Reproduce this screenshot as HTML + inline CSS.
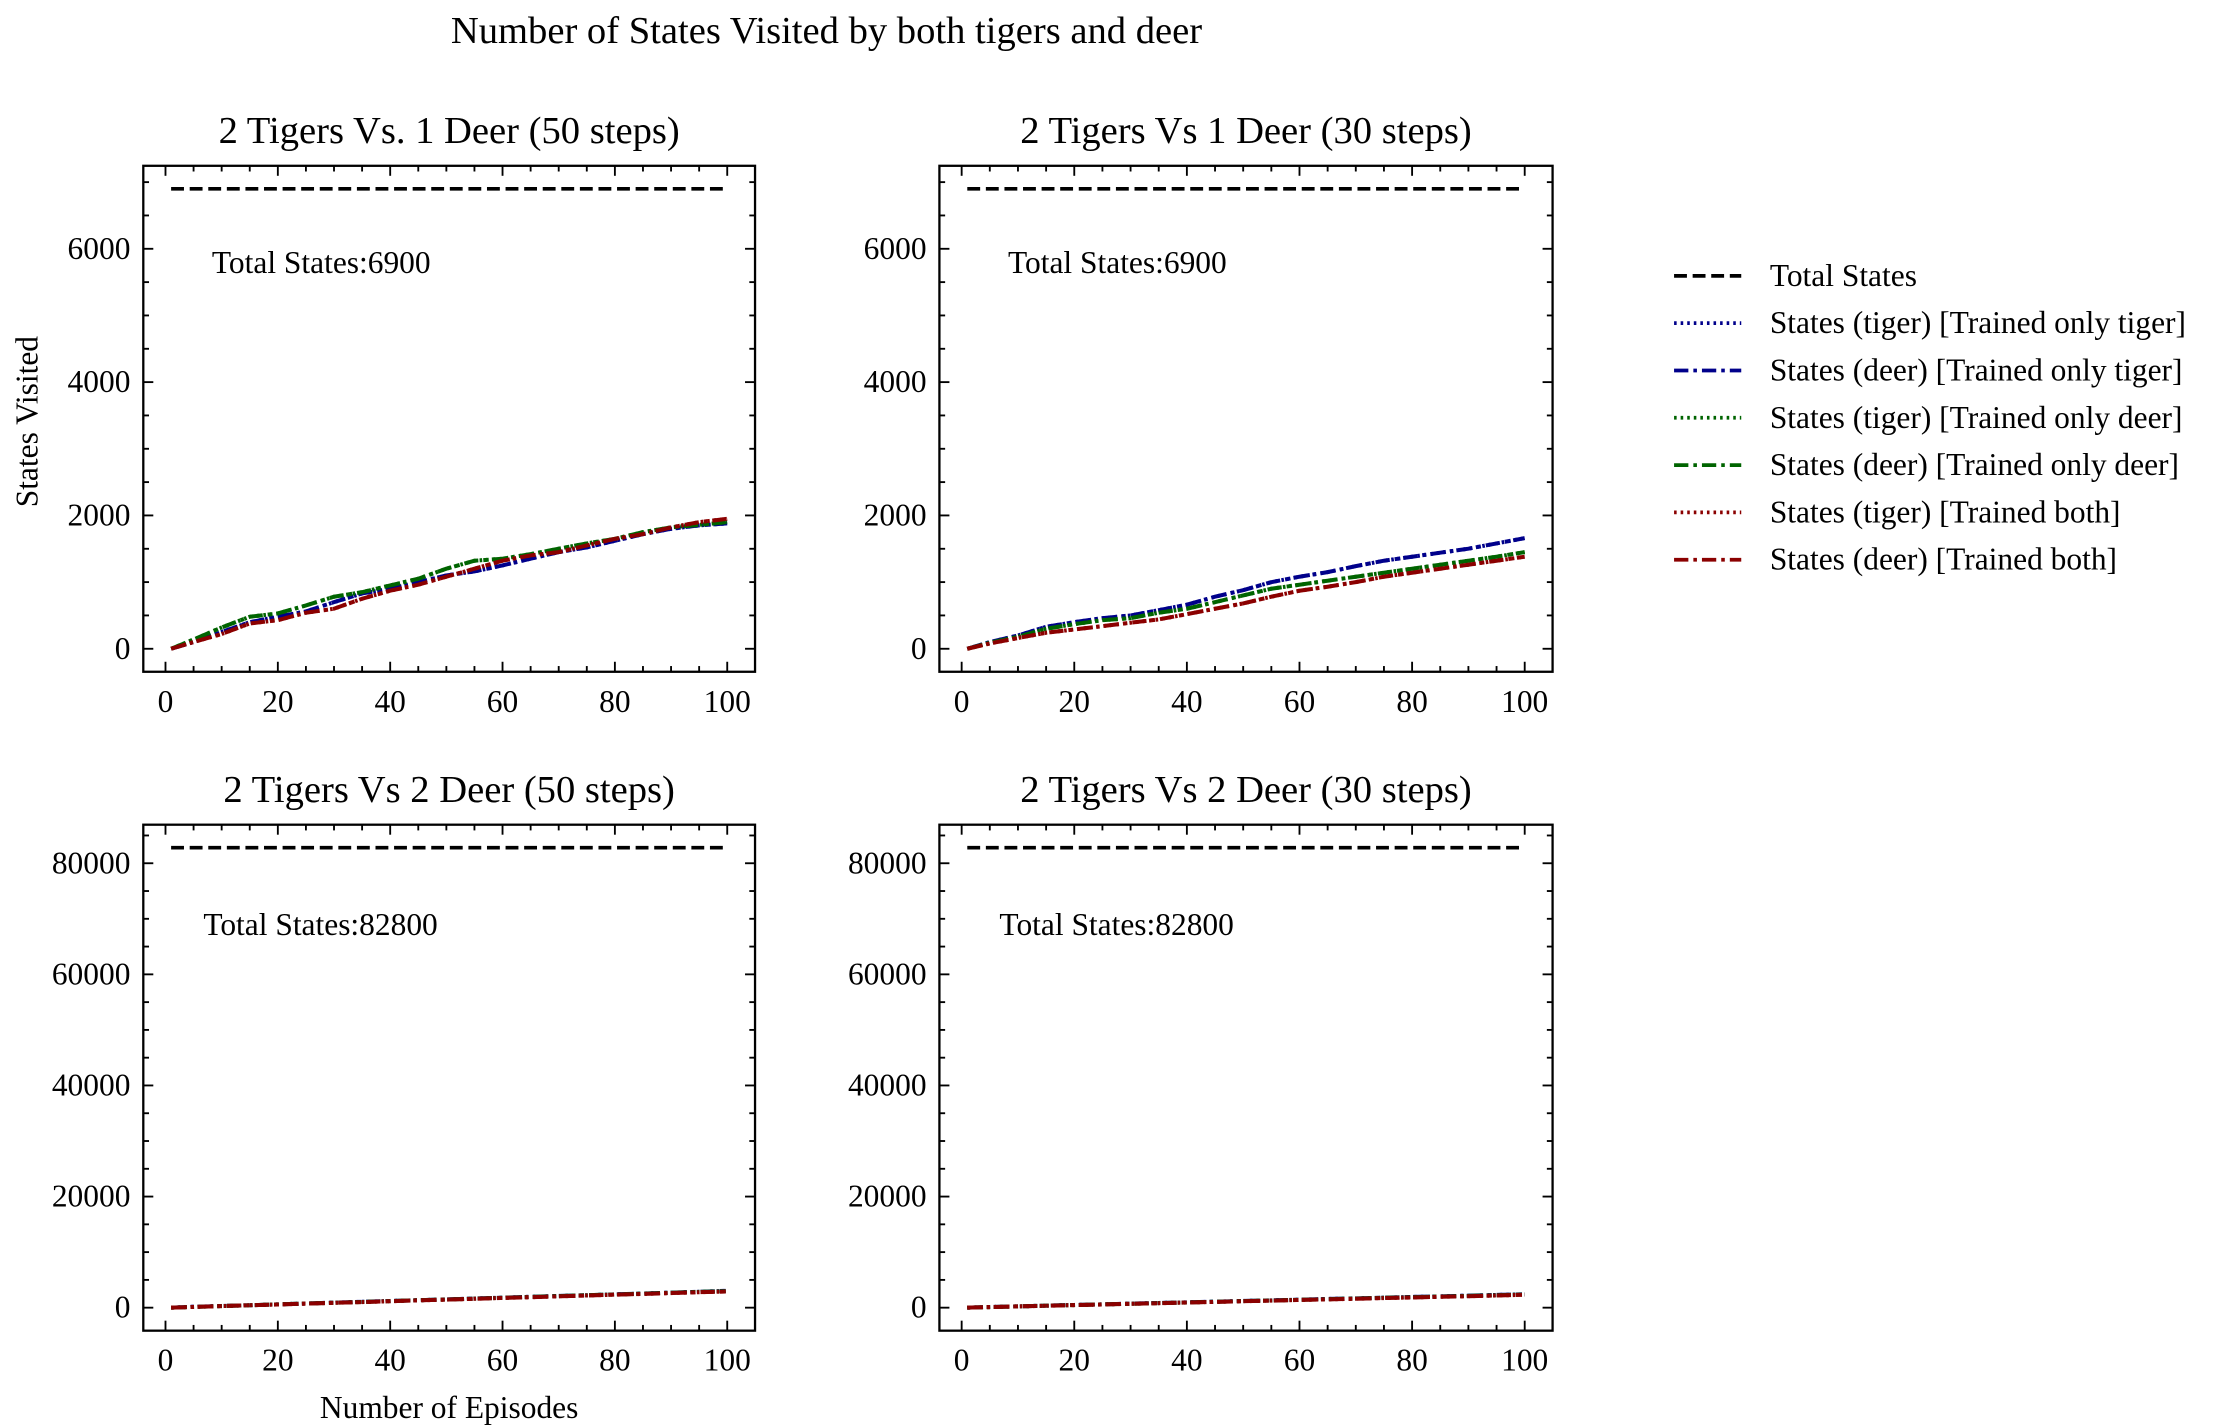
<!DOCTYPE html>
<html><head><meta charset="utf-8"><style>
html,body{margin:0;padding:0;background:#fff}
svg{display:block;font-family:"Liberation Serif",serif}
</style></head><body>
<svg id="fig" width="2219" height="1425" viewBox="0 0 1552 997" xmlns="http://www.w3.org/2000/svg">
<rect width="1552" height="997" fill="#fff"/>
<text x="578" y="30" font-size="27" text-anchor="middle">Number of States Visited by both tigers and deer</text>
<text transform="translate(26,295) rotate(-90)" font-size="22" text-anchor="middle">States Visited</text>
<text x="314" y="992" font-size="22" text-anchor="middle">Number of Episodes</text>
<g id="legend"></g>
</svg>
<script>
const episodes = [1,5,10,15,20,25,30,35,40,45,50,55,60,65,70,75,80,85,90,95,100];
const seriesNames = ["States (tiger) [Trained only tiger]","States (deer) [Trained only tiger]","States (tiger) [Trained only deer]","States (deer) [Trained only deer]","States (tiger) [Trained both]","States (deer) [Trained both]"];
const totalStates = [6900, 6900, 82800, 82800];
const panelTitles = ["2 Tigers Vs. 1 Deer (50 steps)","2 Tigers Vs 1 Deer (30 steps)","2 Tigers Vs 2 Deer (50 steps)","2 Tigers Vs 2 Deer (30 steps)"];
const tlBlue = [0,100,250,400,480,560,700,830,900,1000,1100,1160,1250,1350,1450,1520,1620,1720,1800,1850,1880];
const tlGreen = [0,140,320,480,530,650,780,850,950,1050,1200,1320,1350,1420,1500,1580,1650,1750,1820,1860,1900];
const tlRed = [0,100,220,380,430,540,600,750,870,960,1080,1200,1320,1400,1450,1550,1650,1720,1820,1900,1950];
const trBlue = [0,100,200,330,400,460,500,580,660,780,880,1000,1080,1150,1240,1320,1380,1440,1500,1580,1660];
const trGreen = [0,90,180,300,370,430,460,540,600,700,800,900,960,1020,1080,1140,1200,1260,1320,1380,1450];
const trRed = [0,80,160,240,290,340,390,440,520,600,680,780,870,930,1000,1080,1140,1200,1260,1320,1380];
const blBlue = [0,150,300,450,600,750,900,1050,1200,1350,1500,1650,1800,1950,2100,2250,2400,2550,2700,2850,3050];
const blGreen = [0,140,290,440,590,740,880,1030,1180,1330,1480,1630,1780,1930,2080,2230,2380,2530,2680,2830,2980];
const blRed = [0,130,280,430,580,720,870,1010,1160,1310,1450,1600,1750,1890,2040,2190,2340,2480,2630,2780,2900];
const brBlue = [0,120,240,360,480,600,720,840,960,1080,1200,1320,1440,1560,1680,1800,1920,2040,2160,2280,2420];
const brGreen = [0,115,235,350,470,590,705,825,940,1060,1180,1295,1410,1530,1650,1770,1880,2000,2120,2240,2380];
const brRed = [0,110,230,345,460,575,690,805,920,1035,1150,1265,1380,1495,1610,1725,1840,1955,2070,2185,2330];
const yTicksTop = [0,2000,4000,6000];
const yTicksBottom = [0,20000,40000,60000,80000];
const xTicks = [0,20,40,60,80,100];

const NS="http://www.w3.org/2000/svg";
const svg=document.getElementById('fig');
function mk(tag,attrs,parent){const e=document.createElementNS(NS,tag);for(const k in attrs)e.setAttribute(k,attrs[k]);(parent||svg).appendChild(e);return e;}
const colors=["#00008b","#00008b","#006400","#006400","#8b0000","#8b0000"];
const dashes=["1.8,2.8","10,3.5,2.5,3.5","1.8,2.8","10,3.5,2.5,3.5","1.8,2.8","10,3.5,2.5,3.5"];
const panels=[
 {x0:100,x1:528,y0:116,y1:470,data:[tlBlue,tlBlue,tlGreen,tlGreen,tlRed,tlRed],yt:yTicksTop,minor:500,tx:148,ty:191},
 {x0:657,x1:1086,y0:116,y1:470,data:[trBlue,trBlue,trGreen,trGreen,trRed,trRed],yt:yTicksTop,minor:500,tx:705,ty:191},
 {x0:100,x1:528,y0:577,y1:931,data:[blBlue,blBlue,blGreen,blGreen,blRed,blRed],yt:yTicksBottom,minor:5000,tx:142,ty:654},
 {x0:657,x1:1086,y0:577,y1:931,data:[brBlue,brBlue,brGreen,brGreen,brRed,brRed],yt:yTicksBottom,minor:5000,tx:699,ty:654}
];
panels.forEach((p,i)=>{
  const g=mk('g',{});
  
  
  const tot=totalStates[i];
  const xmin=episodes[0]-0.05*(episodes[episodes.length-1]-episodes[0]);
  const xmax=episodes[episodes.length-1]+0.05*(episodes[episodes.length-1]-episodes[0]);
  const ymin=-0.05*tot, ymax=tot*1.05;
  const X=v=>p.x0+(v-xmin)/(xmax-xmin)*(p.x1-p.x0);
  const Y=v=>p.y1-(v-ymin)/(ymax-ymin)*(p.y1-p.y0);
  const t=mk('text',{x:(p.x0+p.x1)/2,y:p.y0-16,'font-size':27,'text-anchor':'middle'},g);
  t.textContent=panelTitles[i];
  
  
  for(let v=0;v<=100;v+=5){const major=v%20===0;const L=major?7:4;
    mk('line',{x1:X(v),x2:X(v),y1:p.y1,y2:p.y1-L,stroke:'#000','stroke-width':1.3},g);
    mk('line',{x1:X(v),x2:X(v),y1:p.y0,y2:p.y0+L,stroke:'#000','stroke-width':1.3},g);}
  xTicks.forEach(v=>{const l=mk('text',{x:X(v),y:p.y1+28,'font-size':22,'text-anchor':'middle'},g);l.textContent=v;
    
    });
  for(let v=0;v<=ymax;v+=p.minor){const major=p.yt.includes(v);const L=major?7:4;
    mk('line',{x1:p.x0,x2:p.x0+L,y1:Y(v),y2:Y(v),stroke:'#000','stroke-width':1.3},g);
    mk('line',{x1:p.x1,x2:p.x1-L,y1:Y(v),y2:Y(v),stroke:'#000','stroke-width':1.3},g);}
  p.yt.forEach(v=>{const l=mk('text',{x:p.x0-9,y:Y(v)+7,'font-size':22,'text-anchor':'end'},g);l.textContent=v;
    
    });
  const tl=mk('line',{x1:X(episodes[0]),x2:X(episodes[episodes.length-1]),y1:Y(tot),y2:Y(tot),stroke:'#000','stroke-width':2.6,'stroke-dasharray':'9,4'},g);
  
  
  const tt=mk('text',{x:p.tx,y:p.ty,'font-size':22},g);tt.textContent='Total States:'+tot;
  
  
  p.data.forEach((arr,k)=>{
    const d=arr.map((v,j)=>(j?'L':'M')+X(episodes[j]).toFixed(1)+','+Y(v).toFixed(1)).join('');
    const path=mk('path',{d:d,fill:'none',stroke:colors[k],'stroke-width':2.8,'stroke-dasharray':dashes[k]},g);
    
    
  });
  const fr=mk('rect',{x:p.x0,y:p.y0,width:p.x1-p.x0,height:p.y1-p.y0,fill:'none',stroke:'#000','stroke-width':1.6},g);
  
  
});
const lg=document.getElementById('legend');
const entries=[{n:"Total States",c:"#000",d:"9,4"}].concat(seriesNames.map((n,k)=>({n:n,c:colors[k],d:dashes[k]})));
entries.forEach((e,k)=>{
  const y=193+k*33.1;
  const ge=mk('g',{},lg);
  
  
  mk('line',{x1:1171,x2:1218,y1:y,y2:y,stroke:e.c,'stroke-width':2.6,'stroke-dasharray':e.d},ge);
  const t=mk('text',{x:1238,y:y+7,'font-size':22},ge);t.textContent=e.n;
});
</script>
</body></html>
